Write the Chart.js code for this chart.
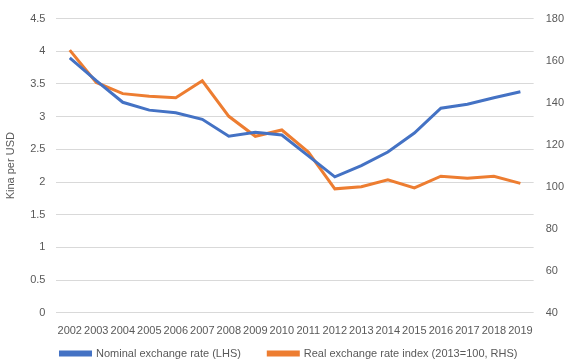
<!DOCTYPE html>
<html>
<head>
<meta charset="utf-8">
<script src="https://cdn.jsdelivr.net/npm/chart.js@4"></script>
<style>
  html, body { margin: 0; padding: 0; background: #fff; }
  #wrap { width: 580px; height: 363px; }
</style>
</head>
<body>
<div id="wrap"><canvas id="miGrafico" width="580" height="363"></canvas></div>
<script>
const years = ['2002','2003','2004','2005','2006','2007','2008','2009','2010','2011','2012','2013','2014','2015','2016','2017','2018','2019'];
const nominal = [3.9, 3.55, 3.22, 3.1, 3.06, 2.96, 2.7, 2.76, 2.72, 2.4, 2.08, 2.25, 2.46, 2.75, 3.13, 3.19, 3.29, 3.38];
const realIdx = [165, 149.6, 144.3, 143.1, 142.3, 150.4, 133.5, 124, 127, 116.5, 99, 100, 103.3, 99.4, 105, 104, 105, 101.6];
const leftTicks = [0, 4.5, 0.5];
const rightTicks = [40, 180, 20];

const gris = '#595959';
const fuente = { family: 'Liberation Sans', size: 11 };

new Chart(document.getElementById('miGrafico'), {
    type: 'line',
    data: {
        labels: years,
        datasets: [
            {
                label: 'Nominal exchange rate (LHS)',
                data: nominal,
                yAxisID: 'y',
                borderColor: '#4472C4',
                backgroundColor: '#4472C4',
                borderWidth: 3,
                pointRadius: 0,
                tension: 0
            },
            {
                label: 'Real exchange rate index (2013=100, RHS)',
                data: realIdx,
                yAxisID: 'y1',
                borderColor: '#ED7D31',
                backgroundColor: '#ED7D31',
                borderWidth: 3,
                pointRadius: 0,
                tension: 0
            }
        ]
    },
    options: {
        responsive: false,
        animation: false,
        // el fondo negativo baja la leyenda hacia el borde del lienzo
        layout: { padding: { left: 2, right: 4, top: 11, bottom: -6 } },
        plugins: {
            tooltip: { enabled: false },
            legend: {
                position: 'bottom',
                labels: {
                    boxWidth: 30,
                    boxHeight: 3,
                    padding: 6,
                    color: gris,
                    font: { family: 'Liberation Sans', size: 11 },
                    generateLabels: function(chart) {
                        const items = Chart.defaults.plugins.legend.labels.generateLabels(chart);
                        // separa un poco mas las dos entradas
                        items[0].text = items[0].text + '       ';
                        return items;
                    }
                }
            }
        },
        scales: {
            x: {
                offset: true,
                grid: { display: false },
                border: { display: false },
                ticks: { color: gris, font: fuente, autoSkip: false, maxRotation: 0, padding: 4 }
            },
            y: {
                position: 'left',
                min: leftTicks[0],
                max: leftTicks[1],
                ticks: { stepSize: leftTicks[2], color: gris, font: fuente, padding: 11,
                         callback: function(v) { return String(Math.round(v * 10) / 10); } },
                grid: { color: '#d9d9d9', drawTicks: false },
                border: { display: false },
                title: { display: true, text: 'Kina per USD', color: gris, font: fuente, padding: 2 }
            },
            y1: {
                position: 'right',
                min: rightTicks[0],
                max: rightTicks[1],
                ticks: { stepSize: rightTicks[2], color: gris, font: fuente, padding: 12 },
                grid: { display: false, drawTicks: false },
                border: { display: false }
            }
        }
    }
});
</script>
</body>
</html>
